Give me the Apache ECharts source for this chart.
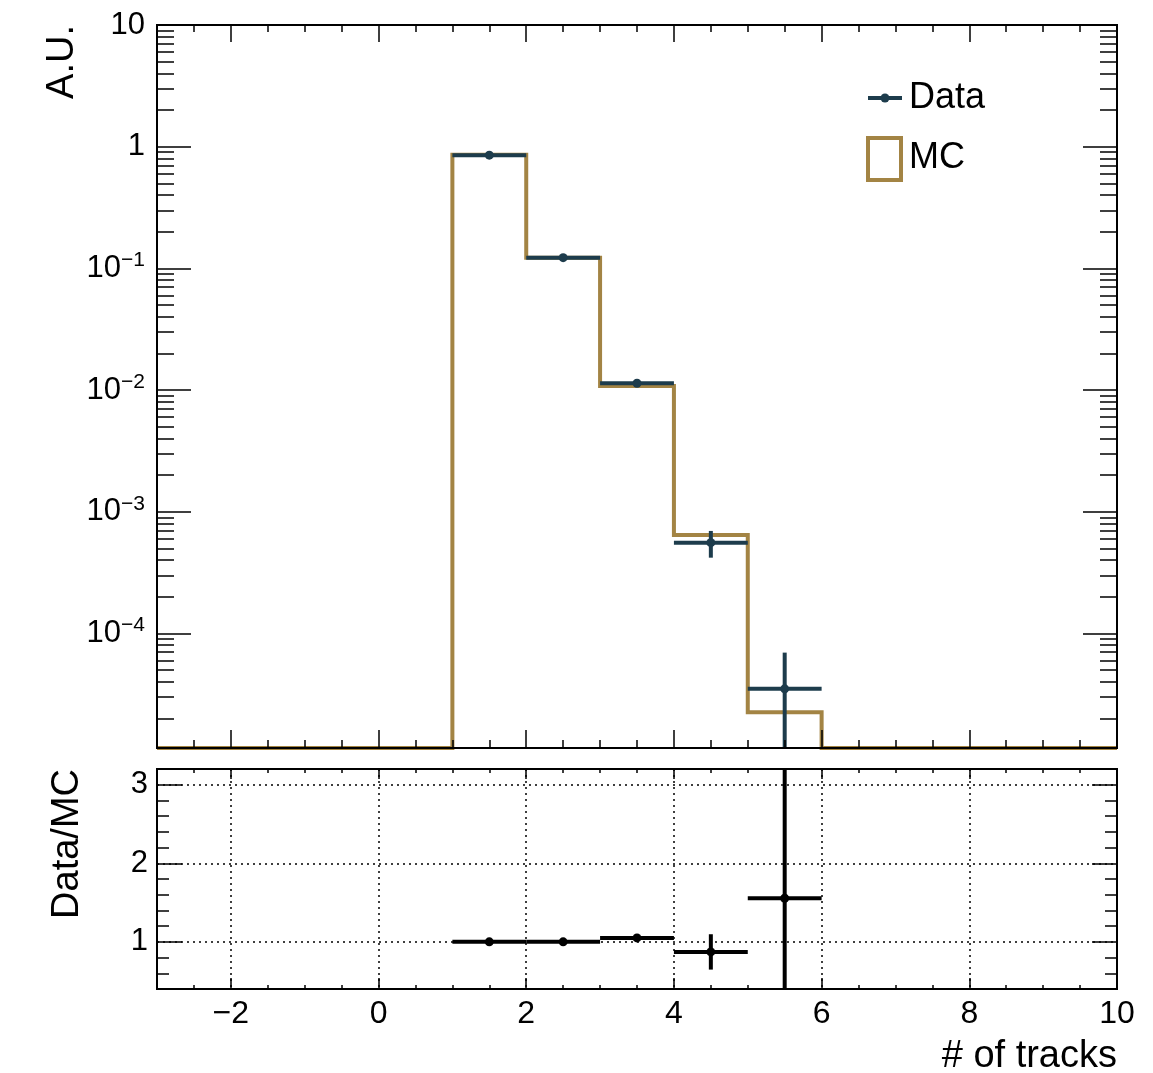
<!DOCTYPE html>
<html>
<head>
<meta charset="utf-8">
<script src="https://cdn.jsdelivr.net/npm/echarts@6/dist/echarts.min.js"></script>
<style>
  html, body { margin: 0; padding: 0; background: #fff; }
  #chart { width: 1153px; height: 1073px; }
</style>
</head>
<body>
<div id="chart"></div>
<script>
// histogram bins (# of tracks), one unit wide
const binEdges = [-3, -2, -1, 0, 1, 2, 3, 4, 5, 6, 7, 8, 9, 10];
const mcValues = [0, 0, 0, 0, 0.858, 0.1225, 0.0108, 6.45e-4, 2.25e-5, 0, 0, 0, 0];

// data points (bin centres)
const dataCenters = [1.5, 2.5, 3.5, 4.5, 5.5];
const dataValues = [0.852, 0.1225, 0.01137, 5.57e-4, 3.5e-5];
const dataErrors = [0.004, 0.0015, 0.0005, 1.38e-4, 3.45e-5];

// ratio panel
const ratioValues = [1.0, 1.0, 1.05, 0.872, 1.555];
const ratioErrors = [0.006, 0.015, 0.04, 0.225, 1.75];

// ticks
const xMajor = [-2, 0, 2, 4, 6, 8, 10];
const ratioMajor = [1, 2, 3];

const X_MIN = -3, X_MAX = 10;
const Y_MIN = 1.143e-5, Y_MAX = 10;
const R_MIN = 0.4, R_MAX = 3.2;

const DATA_COLOR = '#1d3c4c';
const MC_COLOR = '#a38444';
const FONT = '"Liberation Sans", Arial, Helvetica, sans-serif';

// minor tick positions
const xMinor = [];
for (let v = X_MIN; v <= X_MAX; v += 0.5) xMinor.push(v);
const logMinor = [];
for (let n = -5; n <= 0; n++) {
    for (let k = 2; k <= 9; k++) {
        const v = k * Math.pow(10, n);
        if (v > Y_MIN && v < Y_MAX) logMinor.push(Math.log10(v));
    }
}
const ratioMinor = [];
for (let v = 0.6; v < R_MAX; v += 0.2) {
    if (Math.abs(v - Math.round(v)) > 1e-6) ratioMinor.push(+v.toFixed(1));
}

const mcLine = [];
mcValues.forEach((v, i) => {
    const y = Math.max(v, Y_MIN); // empty bins sit on the frame
    mcLine.push([binEdges[i], y], [binEdges[i + 1], y]);
});

const TICK = { color: '#000', width: 1.5 };
const FRAME = { color: '#000', width: 2 };

function xAx(grid, pos, vals, len, more) {
    return Object.assign({
        type: 'value', gridIndex: grid, position: pos, min: X_MIN, max: X_MAX, z: 5,
        axisLine: { show: true, onZero: false, lineStyle: FRAME },
        axisTick: { inside: true, length: len, customValues: vals, lineStyle: TICK },
        axisLabel: { show: false },
        splitLine: { show: false }
    }, more || {});
}

function yAx(grid, pos, type, min, max, vals, len, more) {
    const ax = {
        type: type, gridIndex: grid, position: pos, min: min, max: max, z: 5,
        axisLine: { show: true, onZero: false, lineStyle: FRAME },
        axisTick: { inside: true, length: len, lineStyle: TICK },
        axisLabel: { show: false },
        splitLine: { show: false }
    };
    if (vals) ax.axisTick.customValues = vals;
    return Object.assign(ax, more || {});
}

const logLabel = {
    show: true, margin: 12, color: '#000', fontFamily: FONT,
    formatter: function (v) {
        const e = Math.log10(v), n = Math.round(e);
        if (Math.abs(e - n) > 1e-6) return '';
        if (n === 0) return '{b|1}';
        if (n === 1) return '{b|10}';
        return '{b|10}{s|\u2212' + (-n) + '}';
    },
    rich: {
        b: { fontSize: 31, fontFamily: FONT, color: '#000' },
        s: { fontSize: 21, fontFamily: FONT, color: '#000', padding: [0, 0, 16, 0] }
    }
};

const dotted = { show: true, lineStyle: { color: '#000', width: 1.5, type: [2, 4] } };

function errorBars(color) {
    return function (params, api) {
        const x = api.value(0), y = api.value(1), ex = api.value(2), ey = api.value(3);
        const floor = params.seriesName === 'Data' ? Y_MIN : -1;
        const left = api.coord([x - ex, y]);
        const right = api.coord([x + ex, y]);
        const top = api.coord([x, y + ey]);
        const bot = api.coord([x, Math.max(y - ey, floor)]);
        const c = api.coord([x, y]);
        const st = { stroke: color, lineWidth: 4, fill: null };
        return {
            type: 'group',
            children: [
                { type: 'line', shape: { x1: left[0], y1: left[1], x2: right[0], y2: right[1] }, style: st },
                { type: 'line', shape: { x1: top[0], y1: top[1], x2: bot[0], y2: bot[1] }, style: st },
                { type: 'circle', shape: { cx: c[0], cy: c[1], r: 4.5 }, style: { fill: color } }
            ]
        };
    };
}

const chart = echarts.init(document.getElementById('chart'));

chart.setOption({
    animation: false,
    backgroundColor: '#fff',
    grid: [
        { left: 157, top: 25, width: 960, height: 723 },
        { left: 157, top: 769, width: 960, height: 220 }
    ],
    xAxis: [
        xAx(0, 'bottom', xMajor, 18),
        xAx(0, 'bottom', xMinor, 8),
        xAx(0, 'top', xMajor, 17),
        xAx(0, 'top', xMinor, 7),
        xAx(1, 'bottom', xMajor, 11, {
            axisLabel: {
                show: true, customValues: xMajor, margin: 9, fontSize: 32, fontFamily: FONT, color: '#000',
                formatter: v => String(v).replace('-', '\u2212')
            },
            splitLine: dotted
        }),
        xAx(1, 'bottom', xMinor, 4),
        xAx(1, 'top', xMajor, 10),
        xAx(1, 'top', xMinor, 4)
    ],
    yAxis: [
        yAx(0, 'left', 'log', Y_MIN, Y_MAX, null, 34, { logBase: 10, axisLabel: logLabel }),
        yAx(0, 'left', 'value', Math.log10(Y_MIN), Math.log10(Y_MAX), logMinor, 17),
        yAx(0, 'right', 'log', Y_MIN, Y_MAX, null, 34, { logBase: 10 }),
        yAx(0, 'right', 'value', Math.log10(Y_MIN), Math.log10(Y_MAX), logMinor, 17),
        yAx(1, 'left', 'value', R_MIN, R_MAX, ratioMajor, 25, {
            axisLabel: {
                show: true, customValues: ratioMajor, margin: 9, fontSize: 31, fontFamily: FONT, color: '#000'
            },
            splitLine: dotted
        }),
        yAx(1, 'left', 'value', R_MIN, R_MAX, ratioMinor, 12),
        yAx(1, 'right', 'value', R_MIN, R_MAX, ratioMajor, 25),
        yAx(1, 'right', 'value', R_MIN, R_MAX, ratioMinor, 12)
    ],
    series: [
        {
            name: 'MC', type: 'line', xAxisIndex: 0, yAxisIndex: 0,
            data: mcLine, showSymbol: false, z: 2,
            lineStyle: { color: MC_COLOR, width: 4, join: 'miter' }
        },
        {
            name: 'Data', type: 'custom', xAxisIndex: 0, yAxisIndex: 0, clip: true, z: 3,
            renderItem: errorBars(DATA_COLOR),
            data: dataCenters.map((c, i) => [c, dataValues[i], 0.5, dataErrors[i]])
        },
        {
            name: 'Ratio', type: 'custom', xAxisIndex: 4, yAxisIndex: 4, clip: true, z: 3,
            renderItem: errorBars('#000'),
            data: dataCenters.map((c, i) => [c, ratioValues[i], 0.5, ratioErrors[i]])
        }
    ],
    graphic: [
        { type: 'text', x: 63, y: 25, rotation: Math.PI / 2,
          style: { text: 'A.U.', fontSize: 38, fontFamily: FONT, fill: '#000', align: 'right', verticalAlign: 'middle' } },
        { type: 'text', x: 68, y: 769, rotation: Math.PI / 2,
          style: { text: 'Data/MC', fontSize: 38, fontFamily: FONT, fill: '#000', align: 'right', verticalAlign: 'middle' } },
        { type: 'text', x: 1117, y: 1057,
          style: { text: '# of tracks', fontSize: 38, fontFamily: FONT, fill: '#000', align: 'right', verticalAlign: 'middle' } },
        // legend
        { type: 'line', shape: { x1: 868, y1: 98, x2: 902, y2: 98 }, style: { stroke: DATA_COLOR, lineWidth: 4 } },
        { type: 'circle', shape: { cx: 885, cy: 98, r: 4.5 }, style: { fill: DATA_COLOR } },
        { type: 'text', x: 909, y: 98,
          style: { text: 'Data', fontSize: 36, fontFamily: FONT, fill: '#000', align: 'left', verticalAlign: 'middle' } },
        { type: 'rect', shape: { x: 868, y: 138, width: 33, height: 42 },
          style: { stroke: MC_COLOR, lineWidth: 4, fill: null } },
        { type: 'text', x: 909, y: 158,
          style: { text: 'MC', fontSize: 36, fontFamily: FONT, fill: '#000', align: 'left', verticalAlign: 'middle' } }
    ]
});
</script>
</body>
</html>
